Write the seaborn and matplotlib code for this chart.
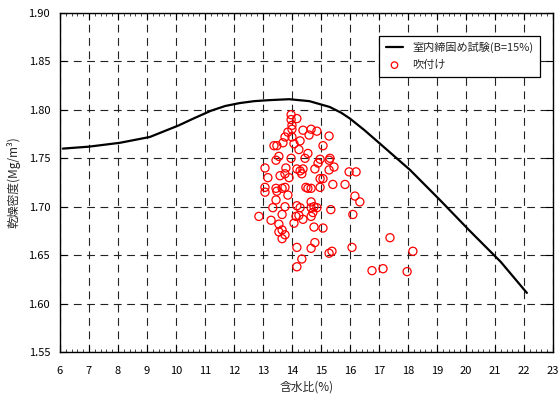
import matplotlib
matplotlib.use("Agg")
import matplotlib.pyplot as plt
import seaborn as sns
import pandas as pd
from matplotlib.ticker import MultipleLocator

# Curve: 室内締固め試験 (B=15%)
curve_w = [6.1, 7.0, 8.07, 9.1, 10.1, 10.6, 11.2, 11.7, 12.2, 12.7, 13.2, 13.9, 14.6, 15.3, 15.7, 16.0, 16.5, 17.0, 18.07, 19.1, 20.1, 21.2, 22.1]
curve_d = [1.760, 1.762, 1.766, 1.772, 1.784, 1.791, 1.799, 1.804, 1.807, 1.809, 1.810, 1.811, 1.809, 1.803, 1.797, 1.791, 1.779, 1.766, 1.738, 1.707, 1.676, 1.643, 1.611]

# Scatter: 吹付け
spray_w = [13.97, 13.97, 14.17, 14.00, 14.00, 14.38, 14.66, 14.86, 13.86, 14.59,
           15.28, 13.76, 14.00, 13.69, 14.28, 13.38, 13.48, 14.07, 15.07, 14.24,
           14.55, 13.55, 13.45, 13.97, 14.45, 14.97, 14.90, 15.28, 15.45, 15.28,
           14.38, 14.17, 13.79, 13.76, 13.90, 13.59, 13.07, 13.17, 14.34, 14.79,
           15.07, 14.97, 15.41, 15.97, 16.21, 13.07, 13.45, 13.66, 13.76, 14.48,
           14.55, 14.66, 14.97, 15.83, 13.07, 13.48, 13.86, 16.17, 16.34, 13.45,
           13.34, 13.76, 14.17, 14.28, 14.66, 14.66, 14.76, 14.86, 13.66, 12.86,
           13.28, 14.14, 14.24, 14.38, 14.07, 14.66, 14.72, 15.34, 16.10, 13.55,
           13.55, 13.66, 13.76, 13.66, 14.76, 15.07, 14.17, 14.79, 14.66, 15.28,
           15.38, 16.07, 14.34, 14.17, 15.31, 17.38, 18.17, 16.76, 17.14, 17.97,
           14.28]
spray_d = [1.795, 1.790, 1.791, 1.784, 1.780, 1.779, 1.780, 1.778, 1.777, 1.774,
           1.773, 1.772, 1.772, 1.766, 1.768, 1.763, 1.763, 1.765, 1.763, 1.759,
           1.755, 1.752, 1.748, 1.750, 1.750, 1.749, 1.745, 1.748, 1.741, 1.738,
           1.739, 1.739, 1.740, 1.734, 1.730, 1.732, 1.740, 1.730, 1.734, 1.739,
           1.729, 1.729, 1.723, 1.736, 1.736, 1.720, 1.719, 1.719, 1.720, 1.720,
           1.719, 1.719, 1.720, 1.723, 1.715, 1.716, 1.712, 1.711, 1.705, 1.707,
           1.699, 1.700, 1.701, 1.699, 1.705, 1.699, 1.700, 1.699, 1.692, 1.690,
           1.686, 1.690, 1.691, 1.687, 1.683, 1.690, 1.694, 1.697, 1.692, 1.682,
           1.674, 1.676, 1.671, 1.667, 1.679, 1.678, 1.658, 1.663, 1.657, 1.652,
           1.654, 1.658, 1.646, 1.638, 1.750, 1.668, 1.654, 1.634, 1.636, 1.633,
           1.737]

x_ticks = list(range(6, 24))
y_ticks = [1.55, 1.60, 1.65, 1.70, 1.75, 1.80, 1.85, 1.90]

sns.set_theme(style="white")
plt.rcParams['font.family'] = ['Noto Sans CJK JP', 'DejaVu Sans']

fig = plt.figure(figsize=(5.6, 4.0), dpi=100)
ax = fig.add_axes([0.107, 0.12, 0.8805, 0.8475])

curve_df = pd.DataFrame({"w": curve_w, "d": curve_d})
spray_df = pd.DataFrame({"w": spray_w, "d": spray_d})

sns.lineplot(data=curve_df, x="w", y="d", sort=False, color="black", linewidth=1.6,
             ax=ax, label="室内締固め試験(B=15%)", zorder=3)
sns.scatterplot(data=spray_df, x="w", y="d", ax=ax, marker="o", s=34,
                facecolors="none", edgecolor="red", linewidth=0.9,
                label="吹付け", zorder=4)

ax.set_xlim(6, 23)
ax.set_ylim(1.55, 1.90)
ax.set_xticks(x_ticks)
ax.set_xticklabels([str(t) for t in x_ticks])
ax.set_yticks(y_ticks)
ax.set_yticklabels([f"{t:.2f}" for t in y_ticks])
ax.xaxis.set_minor_locator(MultipleLocator(0.2))

ax.grid(True, which="major", color="#222222", linestyle=(0, (7, 5)), linewidth=0.8)
ax.tick_params(axis="both", which="major", direction="in", length=5, width=0.8,
               labelsize=8, colors="black", top=True, right=True, bottom=True, left=True)
ax.tick_params(axis="x", which="minor", direction="in", length=2.5, width=0.6,
               top=True, bottom=True)
ax.tick_params(axis="x", pad=10)
ax.tick_params(axis="y", pad=7)
for sp in ax.spines.values():
    sp.set_color("black")
    sp.set_linewidth(1.0)

ax.set_xlabel("含水比(%)", fontsize=8.5, labelpad=3)
ax.set_ylabel("乾燥密度(Mg/m³)", fontsize=8.5, labelpad=6)

leg = ax.legend(loc="upper right", bbox_to_anchor=(0.985, 0.95), fontsize=8,
                frameon=True, fancybox=False, edgecolor="black", framealpha=1,
                borderpad=0.6, handlelength=1.6, labelspacing=0.6, markerscale=0.8)
leg.get_frame().set_linewidth(0.9)

fig.savefig("out.png", dpi=100)
